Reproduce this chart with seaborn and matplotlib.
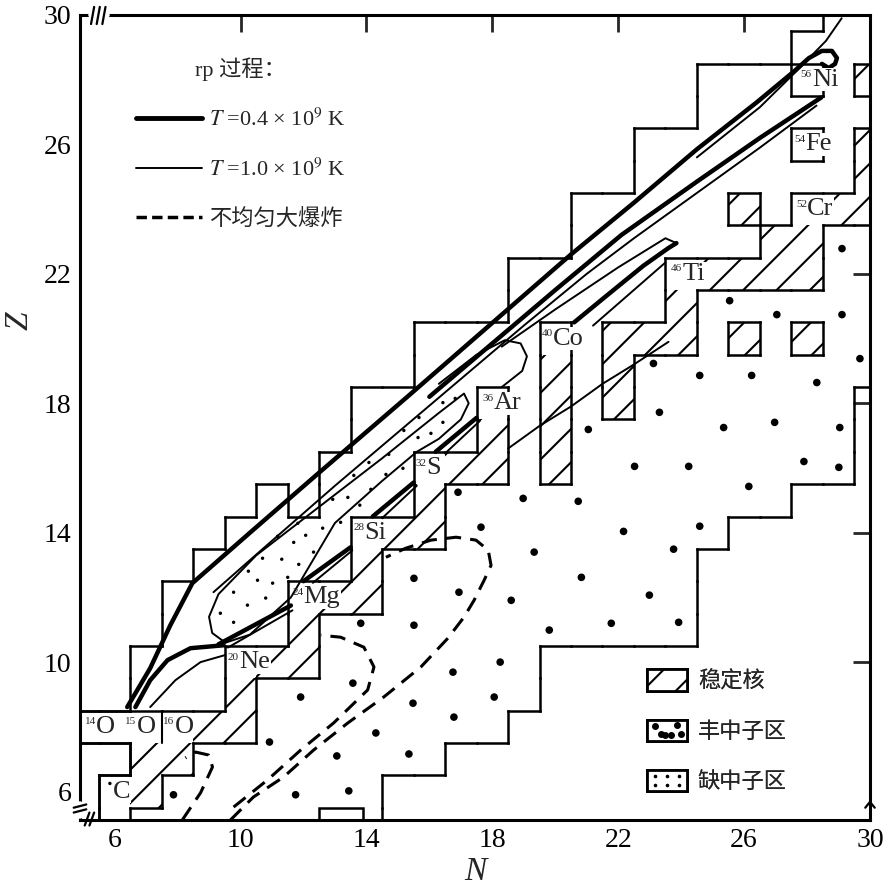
import numpy as np
import matplotlib
matplotlib.use("Agg")
import matplotlib.pyplot as plt
import seaborn as sns
from matplotlib.patches import Rectangle
from matplotlib.collections import LineCollection
from matplotlib.legend_handler import HandlerBase
from matplotlib.lines import Line2D

# ---------------- data ----------------
# reaction network extent: for every proton number Z the first / last neutron number N
row_z = list(range(5, 31))
row_nmin = [6, 6, 7, 5, 7, 7, 8, 8, 9, 10, 11, 13, 14, 14, 16, 16, 19, 19, 21, 21, 23, 23, 25, 25, 28, 29]
row_nmax = [14, 14, 16, 18, 19, 19, 24, 24, 24, 25, 27, 29, 29, 29, 31, 31, 31, 31, 31, 31, 31, 31, 31, 31, 31, 31]
network_holes = [(12, 15)]

# stable nuclei (hatched cells)
stable_n = [7, 7, 8, 9, 10, 10, 11, 12, 12, 13, 14, 14, 15, 16, 16, 17, 18, 18, 20, 20, 20, 20,
            22, 22, 22, 23, 24, 24, 25, 26, 27, 28, 27, 28, 26, 29, 30, 26, 28, 30, 30, 30]
stable_z = [6, 7, 7, 8, 8, 9, 10, 10, 11, 12, 12, 13, 14, 14, 15, 16, 16, 17, 16, 17, 18, 19,
            18, 19, 20, 20, 20, 21, 22, 22, 22, 22, 23, 23, 24, 24, 24, 20, 20, 25, 26, 28]

# labelled nuclei (white boxes)
label_n = [6, 7, 8, 6, 10, 12, 14, 16, 18, 20, 24, 28, 28, 28]
label_z = [8, 8, 8, 6, 10, 12, 14, 16, 18, 20, 22, 24, 26, 28]
label_a = ["14", "15", "16", "", "20", "24", "28", "32", "36", "40", "46", "52", "54", "56"]
label_el = ["O", "O", "O", "C", "Ne", "Mg", "Si", "S", "Ar", "Co", "Ti", "Cr", "Fe", "Ni"]
label_dx = [-0.94, -0.66, -0.45, -0.05, -0.4, -0.36, -0.42, -0.45, -0.32, -0.42, -0.32, -0.35, -0.42, -0.2]
label_box_cells = [(5, 8), (6, 8), (7, 8), (8, 8), (6, 5), (6, 6), (10, 10), (12, 12), (14, 14),
                   (16, 16), (18, 18), (20, 20), (24, 22), (28, 24), (28, 26), (28, 28)]

# neutron-rich region dots
rich_n = [25.54, 27.04, 29.11, 29.11, 29.68, 23.12, 24.59, 26.24, 28.31, 23.31, 21.05, 25.35, 26.97,
          29.04, 22.52, 24.24, 27.90, 29.01, 26.15, 16.91, 18.98, 20.73, 17.64, 22.17, 24.59, 19.33,
          23.76, 20.83, 15.51, 16.94, 18.60, 22.99, 21.78, 23.92, 19.81, 16.75, 18.25, 18.06, 16.78,
          13.82, 15.51, 13.57, 15.48, 11.91, 14.30, 15.35, 10.92, 13.06, 7.87, 11.75, 13.44]
rich_z = [21.17, 20.74, 20.74, 22.78, 19.38, 19.23, 18.86, 18.86, 18.64, 17.72, 17.19, 17.25, 17.41,
          17.25, 16.05, 16.05, 16.20, 16.02, 15.43, 15.25, 15.06, 14.97, 14.17, 14.04, 14.20, 13.40,
          13.49, 12.62, 12.59, 12.16, 11.91, 12.07, 11.20, 11.23, 10.99, 9.69, 10.00, 8.92, 8.30,
          11.20, 11.14, 9.35, 8.73, 8.92, 7.81, 7.16, 7.53, 7.10, 5.90, 5.90, 6.02]

# proton-rich region dots
poor_n = [16.82, 16.43, 15.67, 16.43, 15.19, 16.05, 15.64, 14.08, 14.71, 13.60, 14.62, 15.16, 12.93,
          13.41, 13.79, 14.14, 11.82, 12.61, 13.18, 11.18, 11.69, 12.07, 12.32, 10.70, 11.31, 11.85,
          10.25, 10.54, 11.02, 11.50, 9.78, 10.80, 10.22, 9.36, 9.78, 5.85, 6.0]
poor_z = [18.15, 18.02, 17.56, 17.41, 17.16, 17.07, 16.94, 16.17, 16.42, 15.77, 15.80, 15.99, 15.03,
          15.09, 14.85, 15.34, 14.29, 14.14, 14.32, 13.89, 13.70, 13.92, 13.40, 13.21, 13.18, 13.02,
          12.81, 12.53, 12.44, 12.62, 12.16, 11.98, 11.76, 11.51, 11.23, 6.25, 6.25]

# rp-process paths, T = 0.4e9 K (thick)
hot_a_n = [6.40, 7.13, 7.77, 8.47, 10.3, 12.55, 15.3, 17.9, 20.5, 22.5, 24.5, 26.4, 27.6,
           28.06, 28.47, 28.79, 28.95, 28.89, 28.69, 28.47]
hot_a_z = [8.61, 9.81, 11.14, 12.44, 14.0, 15.9, 18.2, 20.4, 22.6, 24.2, 25.85, 27.3, 28.27,
           28.67, 28.89, 28.89, 28.67, 28.49, 28.36, 28.49]
hot_b_n = [6.66, 7.13, 7.68, 8.41, 9.46]
hot_b_z = [8.61, 9.44, 10.06, 10.43, 10.52]
hot_c_n = [16.0, 18.0, 20.0, 22.1, 24.5, 26.5, 28.45]
hot_c_z = [18.2, 19.85, 21.5, 23.2, 24.85, 26.2, 27.45]
ti_low_n = [20.6, 21.6, 22.8, 23.6, 23.85]
ti_low_z = [20.5, 21.3, 22.25, 22.8, 22.95]
# short links between the alpha-nuclei boxes
link_n = [[9.3, 11.6], [12.0, 13.5], [14.2, 15.5], [16.2, 17.5]]
link_z = [[10.55, 11.75], [12.5, 13.55], [14.5, 15.55], [16.5, 17.55]]

# rp-process paths, T = 1.0e9 K (thin)
warm_a_n = [9.14, 11.0, 13.0, 15.0, 17.0, 19.0, 21.0, 22.5, 24.5, 26.5, 28.3]
warm_a_z = [12.16, 13.75, 15.45, 17.1, 18.75, 20.4, 22.0, 23.1, 24.5, 25.9, 27.2]
warm_top_n = [24.5, 26.5, 27.7, 28.6, 29.1]
warm_top_z = [25.6, 27.15, 28.3, 29.2, 29.9]
warm_b_n = [7.13, 7.93, 8.73, 9.52]
warm_b_z = [8.61, 9.44, 10.00, 10.22]
# closed loop around the proton-rich region
loop_n = [9.52, 9.1, 9.0, 9.3, 10.5, 12.5, 14.5, 16.3, 17.1, 17.25, 17.0, 16.3, 15.6, 14.5, 13.0, 11.6, 10.3, 9.52]
loop_z = [10.6, 10.9, 11.4, 12.1, 13.3, 14.8, 16.3, 17.7, 18.3, 18.0, 17.5, 16.9, 16.5, 15.6, 14.3, 12.0, 10.85, 10.6]
ar_loop_n = [18.3, 18.95, 19.1, 18.9, 18.4, 17.5, 16.3]
ar_loop_z = [18.5, 19.0, 19.45, 19.85, 19.95, 19.5, 18.6]
ti_up_n = [23.85, 23.5, 22.0, 20.0, 18.3]
ti_up_z = [22.95, 23.1, 22.2, 20.9, 19.75]
side_n = [18.5, 19.5, 20.5, 21.5, 22.5, 23.6]
side_z = [16.6, 17.3, 17.9, 18.6, 19.2, 19.9]
ti_side_n = [21.2, 23.5]
ti_side_z = [20.4, 22.35]
thin_link_n = [[9.6, 11.65], [12.3, 13.55], [14.5, 15.6], [16.5, 17.6]]
thin_link_z = [[10.45, 11.6], [12.45, 13.45], [14.45, 15.45], [16.45, 17.45]]

# inhomogeneous big bang (dashed)
bb_a_n = [8.15, 8.73, 9.11, 8.98, 8.57, 8.25]
bb_a_z = [5.12, 5.96, 6.76, 7.13, 7.22, 7.04]
bb_b_n = [9.78, 10.86, 11.91, 12.96, 14.04, 14.24, 13.92, 13.18, 12.55]
bb_b_z = [5.52, 6.36, 7.28, 8.12, 9.14, 9.85, 10.46, 10.77, 10.83]
bb_c_n = [9.68, 10.41, 11.37, 12.32, 13.41, 14.55, 15.73, 16.59, 17.10, 17.42, 17.74, 17.96, 17.87,
          17.48, 16.85, 16.05, 15.25, 14.62]
bb_c_z = [5.12, 5.83, 6.45, 7.28, 8.12, 8.92, 9.85, 10.74, 11.39, 11.91, 12.53, 12.99, 13.46,
          13.77, 13.86, 13.77, 13.52, 13.24]

tick_vals = [6, 10, 14, 18, 22, 26, 30]
top_ticks = [10, 14, 18, 22, 26]
right_ticks = [10, 14, 18, 22, 26]


def cell_edges(cells):
    cs = set(cells)
    segs = []
    for n, z in cs:
        if (n, z + 1) not in cs:
            segs.append([(n - .5, z + .5), (n + .5, z + .5)])
        if (n, z - 1) not in cs:
            segs.append([(n - .5, z - .5), (n + .5, z - .5)])
        if (n - 1, z) not in cs:
            segs.append([(n - .5, z - .5), (n - .5, z + .5)])
        if (n + 1, z) not in cs:
            segs.append([(n + .5, z - .5), (n + .5, z + .5)])
    return segs


class DotBox(HandlerBase):
    def __init__(self, fx, fy, size):
        super().__init__()
        self.fx, self.fy, self.size = fx, fy, size

    def create_artists(self, legend, orig_handle, xdescent, ydescent, width, height, fontsize, trans):
        x0, y0 = -xdescent, -ydescent
        box = Rectangle((x0, y0), width, height, facecolor="white", edgecolor="black", lw=2, transform=trans)
        dots = Line2D(x0 + np.array(self.fx) * width, y0 + np.array(self.fy) * height, ls="",
                      marker="o", ms=self.size, color="black", transform=trans)
        return [box, dots]


def main():
    sns.set_theme(style="white")
    plt.rcParams["font.family"] = ["Liberation Serif", "Noto Sans CJK SC", "DejaVu Sans"]
    plt.rcParams["mathtext.fontset"] = "stix"
    plt.rcParams["hatch.linewidth"] = 1.5
    plt.rcParams["hatch.color"] = "black"

    fig = plt.figure(figsize=(8.83, 8.92), dpi=100)
    ax = fig.add_axes([80 / 883, 72 / 892, 790 / 883, 805 / 892])
    ax.set_xlim(4.9, 30.0)
    ax.set_ylim(5.12, 30.0)

    # hatched stable cells
    labelled = set(label_box_cells)
    for n, z in zip(stable_n, stable_z):
        ax.add_patch(Rectangle((n - .5, z - .5), 1, 1, facecolor="white", edgecolor="black",
                               hatch="/", lw=0, zorder=1))

    # outlines
    net_cells = [(n, z) for z, a, b in zip(row_z, row_nmin, row_nmax) for n in range(a, b + 1)
                 if (n, z) not in network_holes]
    ax.add_collection(LineCollection(cell_edges(net_cells), colors="black", lw=1.8,
                                     capstyle="projecting", zorder=2))
    stab_cells = list(zip(stable_n, stable_z)) + list(labelled)
    ax.add_collection(LineCollection(cell_edges(stab_cells), colors="black", lw=1.8,
                                     capstyle="projecting", zorder=2))
    ax.add_patch(Rectangle((12.5, 4.5), 1.4, 1.0, fill=False, edgecolor="black", lw=1.8, zorder=2))
    ax.plot([7.5, 7.5], [7.5, 8.5], color="black", lw=1.5, zorder=2)

    # region dots
    sns.scatterplot(x=rich_n, y=rich_z, s=30, color="black", edgecolor="none", ax=ax, zorder=3)
    sns.scatterplot(x=poor_n, y=poor_z, s=6, color="black", edgecolor="none", ax=ax, zorder=3)

    # paths
    thick = [(hot_a_n, hot_a_z), (hot_b_n, hot_b_z), (hot_c_n, hot_c_z),
             (ti_low_n, ti_low_z)] + list(zip(link_n, link_z))
    for xs, ys in thick:
        ax.plot(xs, ys, color="black", lw=3.2, solid_joinstyle="round", solid_capstyle="round", zorder=4)
    thin = [(warm_a_n, warm_a_z), (warm_top_n, warm_top_z), (warm_b_n, warm_b_z), (loop_n, loop_z),
            (ar_loop_n, ar_loop_z), (ti_up_n, ti_up_z), (side_n, side_z),
            (ti_side_n, ti_side_z)] + list(zip(thin_link_n, thin_link_z))
    for xs, ys in thin:
        ax.plot(xs, ys, color="black", lw=1.4, solid_joinstyle="round", zorder=4)
    for xs, ys in [(bb_a_n, bb_a_z), (bb_b_n, bb_b_z), (bb_c_n, bb_c_z)]:
        ax.plot(xs, ys, color="black", lw=2.2, ls=(0, (5, 3)), zorder=4)

    # labels
    for n, z, a, el, dx in zip(label_n, label_z, label_a, label_el, label_dx):
        x0 = n + dx
        shift = 0.0
        if a:
            ax.text(x0, z + 0.15, a, fontsize=8, ha="left", va="center", zorder=7)
            shift = 0.36
        ax.text(x0 + shift, z, el, fontsize=19, ha="left", va="center", zorder=6,
                bbox=dict(facecolor="white", edgecolor="none", pad=0.3))

    # axes styling
    for sp in ax.spines.values():
        sp.set_linewidth(2.2)
        sp.set_color("black")
    ax.set_xticks(tick_vals)
    ax.set_yticks(tick_vals)
    ax.tick_params(axis="both", which="both", direction="in", length=12, width=2, labelsize=20,
                   top=False, right=False, colors="black", pad=6)
    top = ax.secondary_xaxis("top")
    top.set_xticks(top_ticks)
    top.tick_params(direction="in", length=12, width=2, labeltop=False)
    top.spines["top"].set_visible(False)
    rgt = ax.secondary_yaxis("right")
    rgt.set_yticks(right_ticks)
    rgt.tick_params(direction="in", length=12, width=2, labelright=False)
    rgt.spines["right"].set_visible(False)
    ax.set_xlabel("N", fontsize=24, style="italic", labelpad=2)
    ax.set_ylabel("Z", fontsize=24, style="italic")
    ax.yaxis.set_label_coords(-0.058, 0.62)

    # axis break marks
    brk = dict(color="black", lw=1.6, clip_on=False, zorder=8)
    ax.plot([5.25, 5.75], [30.0, 30.0], color="white", lw=4, clip_on=False, zorder=7)
    for x in (5.3, 5.48, 5.66):
        ax.plot([x - 0.05, x + 0.05], [29.72, 30.25], **brk)
    ax.plot([4.9, 4.9], [5.25, 5.6], color="white", lw=4, clip_on=False, zorder=7)
    ax.plot([4.7, 5.1], [5.35, 5.45], **brk)
    ax.plot([4.7, 5.1], [5.5, 5.6], **brk)
    ax.plot([5.05, 5.2], [4.95, 5.35], **brk)
    ax.plot([5.2, 5.35], [4.95, 5.35], **brk)
    ax.plot([29.85, 30.0, 30.15], [5.5, 5.68, 5.5], **brk)

    # legend: paths
    hands = [Line2D([], [], color="black", lw=3.5),
             Line2D([], [], color="black", lw=1.4),
             Line2D([], [], color="black", lw=2.5, ls=(0, (3, 1.5)))]
    labs = [r"$T$ =0.4 × 10$^{9}$ K", r"$T$ =1.0 × 10$^{9}$ K", "不均匀大爆炸"]
    leg1 = ax.legend(hands, labs, loc="upper left", bbox_to_anchor=(0.045, 0.972), frameon=False,
                     title="rp 过程：", fontsize=16, title_fontsize=16, handlelength=3.0,
                     labelspacing=1.25, handletextpad=0.3)
    ax.add_artist(leg1)

    # legend: regions
    h1 = Rectangle((0, 0), 1, 1, facecolor="white", edgecolor="black", hatch="/", lw=2)
    h2 = Rectangle((0, 0), 1, 1)
    h3 = Rectangle((0, 0), 1, 1)
    leg2 = ax.legend([h1, h2, h3], ["稳定核", "丰中子区", "缺中子区"], loc="upper left",
                     bbox_to_anchor=(0.692, 0.212), frameon=False, fontsize=16,
                     handlelength=1.8, handleheight=1.1, labelspacing=1.22, handletextpad=0.5,
                     handler_map={h2: DotBox([0.2, 0.45, 0.75, 0.35, 0.6, 0.85], [0.7, 0.3, 0.75, 0.35, 0.3, 0.35], 4),
                                  h3: DotBox([0.2, 0.5, 0.8, 0.2, 0.5, 0.8], [0.7, 0.7, 0.7, 0.3, 0.3, 0.3], 1.6)})
    ax.add_artist(leg2)

    fig.savefig("out.png", dpi=100)


if __name__ == "__main__":
    main()
